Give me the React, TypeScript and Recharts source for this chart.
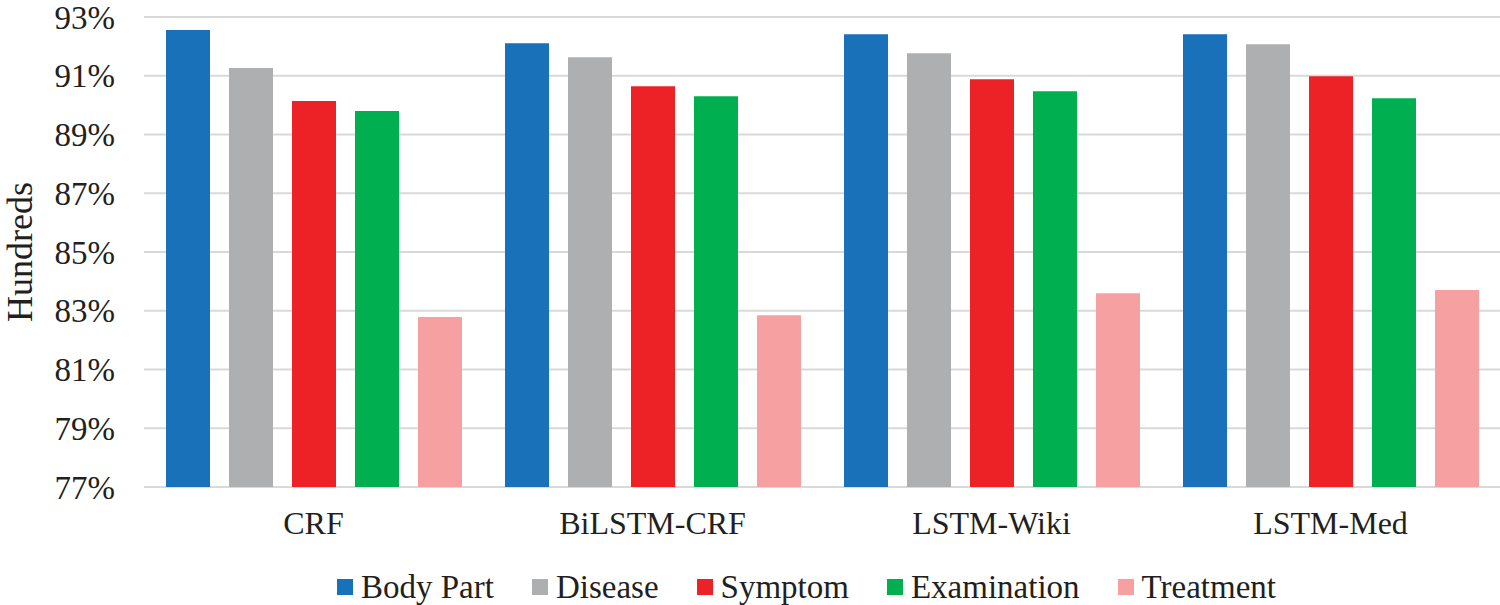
import { BarChart, Bar, XAxis, YAxis, CartesianGrid, Legend, Label } from "recharts";

// models on the x axis
const models = ["CRF", "BiLSTM-CRF", "LSTM-Wiki", "LSTM-Med"];

// scores (%) per entity type
const bodyPart = [92.56, 92.11, 92.41, 92.41];
const disease = [91.26, 91.63, 91.77, 92.07];
const symptom = [90.14, 90.64, 90.88, 90.98];
const examination = [89.8, 90.3, 90.47, 90.23];
const treatment = [82.79, 82.85, 83.6, 83.71];

const yTicks = [77, 79, 81, 83, 85, 87, 89, 91, 93];

const SERIES = [
  { key: "bodyPart", name: "Body Part", color: "#1871b9", values: bodyPart },
  { key: "disease", name: "Disease", color: "#aeafb1", values: disease },
  { key: "symptom", name: "Symptom", color: "#ed2227", values: symptom },
  { key: "examination", name: "Examination", color: "#00b050", values: examination },
  { key: "treatment", name: "Treatment", color: "#f6a0a2", values: treatment },
];

const data = models.map((model, i) => {
  const row: Record<string, string | number> = { model };
  SERIES.forEach(s => {
    row[s.key] = s.values[i];
  });
  return row;
});

const FONT = "Liberation Serif, serif";
const TEXT = "#231f20";

function LegendRow() {
  return (
    <div
      style={{
        display: "flex",
        alignItems: "center",
        height: 36,
        paddingLeft: 337,
        fontFamily: FONT,
        fontSize: 33,
        color: TEXT,
        gap: 38,
      }}
    >
      {SERIES.map(s => (
        <div key={s.key} style={{ display: "flex", alignItems: "center" }}>
          <span style={{ width: 16, height: 16, background: s.color, marginRight: 8, display: "inline-block" }} />
          <span style={{ lineHeight: "36px" }}>{s.name}</span>
        </div>
      ))}
    </div>
  );
}

export default function App() {
  return (
    <div style={{ position: "absolute", left: 0, top: 0, background: "#fff", fontFamily: FONT }}>
      <BarChart
        width={1500}
        height={605}
        data={data}
        margin={{ top: 17, right: 0, left: 0, bottom: 0 }}
        barSize={44}
        barGap={19}
      >
        <CartesianGrid vertical={false} stroke="#d9d9d9" strokeWidth={2} />
        <XAxis
          dataKey="model"
          axisLine={false}
          tickLine={false}
          tickSize={0}
          tickMargin={24}
          height={82}
          tick={{ fontFamily: FONT, fontSize: 32, fill: TEXT }}
        />
        <YAxis
          domain={[77, 93]}
          ticks={yTicks}
          interval={0}
          axisLine={false}
          tickLine={false}
          tickSize={0}
          tickMargin={29}
          width={144}
          tickFormatter={v => `${v}%`}
          tick={{ fontFamily: FONT, fontSize: 33, fill: TEXT }}
        >
          <Label
            content={() => (
              <text
                x={32}
                y={252}
                transform="rotate(-90 32 252)"
                textAnchor="middle"
                fontFamily={FONT}
                fontSize={36}
                fill={TEXT}
              >
                Hundreds
              </text>
            )}
          />
        </YAxis>
        <Legend verticalAlign="bottom" content={() => <LegendRow />} />
        {SERIES.map(s => (
          <Bar key={s.key} dataKey={s.key} name={s.name} fill={s.color} isAnimationActive={false} />
        ))}
      </BarChart>
    </div>
  );
}
